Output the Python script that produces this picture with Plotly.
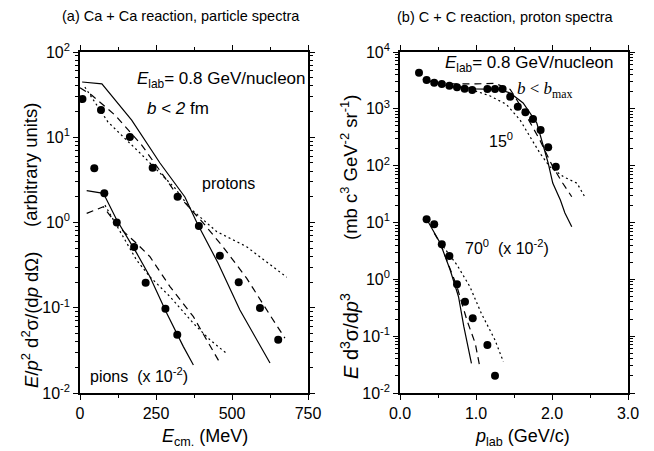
import plotly.graph_objects as go

# ---------------- data: (a) Ca + Ca ----------------
prot_E = [8, 69, 164, 239, 321, 391, 460, 522, 592, 652]
prot_v = [28.1, 20.9, 10.1, 4.39, 2.01, 0.91, 0.408, 0.199, 0.099, 0.042]
pion_E = [47, 80, 121, 178, 216, 281, 320]
pion_v = [4.32, 2.2, 1.0, 0.516, 0.197, 0.0975, 0.0483]

prot_sol_E = [7, 72, 170, 263, 345, 385, 454, 526, 625]
prot_sol_v = [44.5, 42.2, 15.9, 4.99, 1.99, 0.986, 0.335, 0.094, 0.0225]
prot_das_E = [0, 38, 115, 203, 312, 405, 470, 548, 625, 674]
prot_das_v = [38.1, 31.3, 18.2, 8.1, 2.3, 0.99, 0.52, 0.223, 0.082, 0.044]
prot_dot_E = [16, 92, 204, 312, 362, 450, 548, 680]
prot_dot_v = [38.8, 15.1, 6.19, 2.54, 1.47, 0.78, 0.52, 0.228]

pion_sol_E = [22, 77, 121, 186, 230, 285, 340, 373]
pion_sol_v = [2.36, 2.2, 1.07, 0.44, 0.231, 0.087, 0.035, 0.0213]
pion_das_E = [22, 77, 126, 186, 230, 296, 373, 417, 461]
pion_das_v = [1.28, 1.53, 0.893, 0.57, 0.397, 0.177, 0.0785, 0.0419, 0.0223]
pion_dot_E = [82, 186, 230, 296, 373, 428, 479]
pion_dot_v = [1.6, 0.363, 0.231, 0.135, 0.0657, 0.0419, 0.0297]

# ---------------- data: (b) C + C ----------------
p15_p = [0.25, 0.35, 0.45, 0.55, 0.65, 0.75, 0.85, 0.95, 1.15, 1.25, 1.35, 1.45,
         1.55, 1.65, 1.75, 1.85, 1.95, 2.05]
p15_v = [4320, 3215, 2884, 2735, 2553, 2393, 2261, 2145, 2232, 2232, 2232, 1634,
         1090, 868, 662, 424, 210, 95.8]
p15_sol_p = [0.30, 0.60, 1.00, 1.30, 1.45, 1.62, 1.80, 1.88, 1.95, 2.01, 2.11, 2.17, 2.26]
p15_sol_v = [3300, 2600, 2250, 2200, 1900, 1267, 563, 250, 111, 49.5, 24.9, 14.7, 8.4]
p15_das_p = [0.35, 0.70, 1.00, 1.25, 1.45, 1.62, 1.84, 2.01, 2.14, 2.26]
p15_das_v = [3100, 2750, 2750, 2800, 2200, 953, 283, 96, 49.5, 28.4]
p15_dot_p = [0.35, 0.60, 0.95, 1.18, 1.40, 1.58, 1.71, 1.84, 1.97, 2.15, 2.33, 2.43]
p15_dot_v = [3300, 2700, 2150, 1700, 1200, 636, 324, 167, 96, 64, 49, 28.4]

p70_p = [0.35, 0.45, 0.55, 0.65, 0.75, 0.855, 0.957, 1.15, 1.25]
p70_v = [11.4, 9.3, 4.13, 2.57, 0.817, 0.404, 0.206, 0.0698, 0.0201]
p70_sol_p = [0.37, 0.53, 0.66, 0.77, 0.84, 0.94]
p70_sol_v = [10.3, 4.3, 1.46, 0.494, 0.147, 0.0333]
p70_das_p = [0.45, 0.53, 0.75, 0.88, 0.99, 1.05]
p70_das_v = [6.5, 4.3, 0.741, 0.192, 0.0748, 0.029]
p70_dot_p = [0.57, 0.75, 0.92, 1.07, 1.25, 1.36]
p70_dot_v = [3.75, 1.79, 0.741, 0.252, 0.0855, 0.0355]

FONT = "Liberation Sans, Arial, sans-serif"
BLK = "black"

fig = go.Figure()

def pts(x, y, ax):
    fig.add_trace(go.Scatter(x=x, y=y, mode="markers", xaxis=ax[0], yaxis=ax[1],
                             marker=dict(color=BLK, size=8, line=dict(width=0)),
                             showlegend=False, hoverinfo="skip"))

def line(x, y, dash, ax):
    fig.add_trace(go.Scatter(x=x, y=y, mode="lines", xaxis=ax[0], yaxis=ax[1],
                             line=dict(color=BLK, width=1.2, dash=dash),
                             showlegend=False, hoverinfo="skip"))

A = ("x", "y")
B = ("x2", "y2")
line(prot_sol_E, prot_sol_v, "solid", A)
line(prot_das_E, prot_das_v, "7px,5px", A)
line(prot_dot_E, prot_dot_v, "2px,3px", A)
line(pion_sol_E, pion_sol_v, "solid", A)
line(pion_das_E, pion_das_v, "7px,5px", A)
line(pion_dot_E, pion_dot_v, "2px,3px", A)
pts(prot_E, prot_v, A)
pts(pion_E, pion_v, A)

line(p15_sol_p, p15_sol_v, "solid", B)
line(p15_das_p, p15_das_v, "7px,5px", B)
line(p15_dot_p, p15_dot_v, "2px,3px", B)
line(p70_sol_p, p70_sol_v, "solid", B)
line(p70_das_p, p70_das_v, "7px,5px", B)
line(p70_dot_p, p70_dot_v, "2px,3px", B)
pts(p15_p, p15_v, B)
pts(p70_p, p70_v, B)

W, H = 654, 451
def fx(px):
    return px / W
def fy(py):
    return 1 - py / H

XL = [fx(80), fx(308)]
XR = [fx(400), fx(628)]
dom_y = [fy(393), fy(52)]

def sup_labels(lo, hi):
    return [10 ** n for n in range(lo, hi + 1)], ["10<sup>%d</sup>" % n for n in range(lo, hi + 1)]

common = dict(showline=True, linecolor=BLK, linewidth=1.6, mirror="allticks",
              ticks="outside", ticklen=5, tickwidth=1.3, tickcolor=BLK,
              showgrid=False, zeroline=False, automargin=False,
              tickfont=dict(family=FONT, size=16, color=BLK))

def lin_minor(mdt):
    return dict(ticks="outside", ticklen=3, tickwidth=1.1, tickcolor=BLK, tick0=0, dtick=mdt)

def log_minor():
    return dict(ticks="outside", ticklen=3, tickwidth=1, tickcolor=BLK, dtick="D1")

yv1, yt1 = sup_labels(-2, 2)
yv2, yt2 = sup_labels(-2, 4)

fig.update_layout(
    template="none",
    width=W, height=H, margin=dict(l=0, r=0, t=0, b=0, autoexpand=False),
    paper_bgcolor="white", plot_bgcolor="white",
    xaxis=dict(domain=XL, range=[0, 750], anchor="y",
               tickmode="array", tickvals=[0, 250, 500, 750], ticktext=["0", "250", "500", "750"],
               minor=lin_minor(125), **common),
    yaxis=dict(domain=dom_y, type="log", range=[-2, 2], anchor="x",
               tickmode="array", tickvals=yv1, ticktext=yt1,
               minor=log_minor(), **common),
    xaxis2=dict(domain=XR, range=[0, 3], anchor="y2",
                tickmode="array", tickvals=[0, 1, 2, 3], ticktext=["0.0", "1.0", "2.0", "3.0"],
                minor=lin_minor(0.5), **common),
    yaxis2=dict(domain=dom_y, type="log", range=[-2, 4], anchor="x2",
                tickmode="array", tickvals=yv2, ticktext=yt2,
                minor=log_minor(), **common),
)

def ann(text, px, py, size=16, angle=0, xanchor="center"):
    fig.add_annotation(text=text, x=fx(px), y=fy(py), xref="paper", yref="paper",
                       showarrow=False, textangle=angle, xanchor=xanchor, yanchor="middle",
                       font=dict(family=FONT, size=size, color=BLK))

NB = "\u00a0"
ann("(a) Ca + Ca reaction, particle spectra", 181, 16, 14.5)
ann("(b) C + C reaction, proton spectra", 505, 17, 14.5)

ann("<i>E</i><sub>lab</sub>= 0.8 GeV/nucleon", 135, 80, 17, xanchor="left")
ann("<i>b</i> < <i>2</i> fm", 145, 108, 17, xanchor="left")
ann("protons", 228, 183, 16)
ann("pions" + NB + NB + "(x 10<sup>-2</sup>)", 88, 375, 16, xanchor="left")

ann("<i>E</i><sub>lab</sub>= 0.8 GeV/nucleon", 443, 64, 17, xanchor="left")
ann("<span style='font-family:Liberation Serif,Times New Roman,serif'><i>b</i> < <i>b</i><sub>max</sub></span>",
    515, 90, 17, xanchor="left")
ann("15<sup>0</sup>", 501, 140, 16)
ann("70<sup>0</sup>" + NB + NB + "(x 10<sup>-2</sup>)", 463, 247, 16, xanchor="left")

ann("<i>E</i><sub>cm.</sub>" + NB + "(MeV)", 205, 437, 18)
ann("<i>p</i><sub>lab</sub> (GeV/c)", 522, 437, 18)

ann("<i>E</i>/<i>p</i><sup>2</sup> d<sup>2</sup>σ/(d<i>p</i> dΩ)", 30, 320, 18.5, angle=-90)
ann("(arbitrary units)", 30, 165, 18.5, angle=-90)
ann("<i>E</i> d<sup>3</sup>σ/d<i>p</i><sup>3</sup>", 349, 336, 20, angle=-90)
ann("(mb c<sup>3</sup> GeV<sup>-2</sup> sr<sup>-1</sup>)", 349, 168, 18.5, angle=-90)

fig.write_html("out.html")
